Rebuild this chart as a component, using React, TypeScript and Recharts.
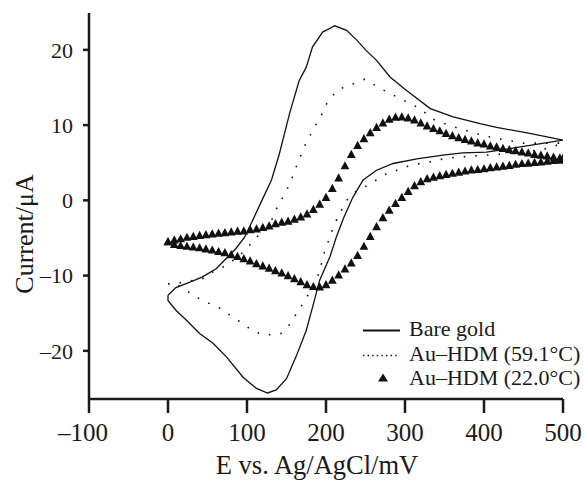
import { ComposedChart, Line, Scatter, XAxis, YAxis, Legend, Text } from "recharts";

const FONT = '"Liberation Serif", "Times New Roman", serif';
const INK = "#1a1a1a";

const X_TICKS = [-100, 0, 100, 200, 300, 400, 500];
const Y_TICKS = [-20, -10, 0, 10, 20];

// Bare gold: anodic sweep 0 -> 500 mV, then cathodic sweep back to 0
const BARE_FWD_E = [0, 10, 27, 43, 61, 74, 86, 97, 107, 118, 131, 141, 154, 166, 175, 183, 196, 202, 211, 226, 239, 251, 264, 281, 302, 332, 361, 395, 416, 458, 500];
const BARE_FWD_I = [-12.6, -11.6, -10.9, -10.2, -9.1, -7.7, -6.4, -4.9, -2.7, -0.2, 2.7, 6.2, 11.6, 15.9, 17.7, 20.4, 22.4, 22.7, 23.2, 22.6, 21.3, 19.9, 18.6, 16.4, 14.6, 12.2, 11.1, 10.2, 9.7, 8.9, 8.0];
const BARE_REV_E = [458, 416, 403, 373, 348, 315, 285, 264, 247, 234, 222, 213, 205, 192, 183, 175, 162, 150, 137, 126, 112, 95, 74, 57, 40, 23, 10, 0, 0];
const BARE_REV_I = [7.3, 6.6, 6.4, 6.3, 6.0, 5.5, 4.9, 4.0, 2.7, 0.4, -2.4, -4.9, -7.5, -10.6, -14.2, -17.3, -20.8, -23.7, -25.2, -25.6, -25.0, -23.5, -20.8, -19.0, -17.7, -15.9, -14.6, -13.3, -12.6];

// Au-HDM at 59.1 °C (dotted)
const HOT_FWD_E = [0, 10, 18, 44, 57, 69, 80, 95, 103, 112, 124, 131, 135, 141, 150, 156, 164, 175, 188, 194, 202, 215, 249, 272, 285, 302, 319, 335, 350, 367, 383, 400, 417, 434, 450, 475, 500];
const HOT_FWD_I = [-11.1, -11.1, -10.9, -10.4, -9.5, -8.9, -8.2, -6.9, -6.0, -4.9, -4.0, -2.7, -1.6, -0.4, 1.3, 2.7, 4.9, 7.7, 10.2, 11.3, 13.1, 14.7, 16.1, 14.7, 14.0, 13.1, 12.2, 10.8, 10.2, 9.6, 9.1, 8.6, 8.2, 7.9, 7.6, 7.6, 7.6];
const HOT_REV_E = [480, 458, 430, 400, 382, 365, 348, 331, 308, 274, 253, 239, 226, 211, 198, 192, 188, 175, 169, 152, 143, 125, 117, 107, 98, 82, 65, 48, 31, 23, 10, 0];
const HOT_REV_I = [6.9, 6.5, 6.2, 6.0, 5.85, 5.75, 5.5, 5.1, 4.7, 3.4, 2.0, 1.3, 0, -3.1, -6.9, -9.3, -10.6, -13.0, -14.0, -16.8, -17.7, -17.9, -17.7, -17.4, -16.6, -15.5, -14.3, -13.5, -12.6, -11.9, -11.1, -11.1];

// Au-HDM at 22.0 °C (triangles), one marker every 8 mV
const COLD_FWD_E = [0, 8, 16, 24, 32, 40, 48, 56, 64, 72, 80, 88, 96, 104, 112, 120, 128, 136, 144, 152, 160, 168, 176, 184, 192, 200, 208, 216, 224, 232, 240, 248, 256, 264, 272, 280, 288, 296, 304, 312, 320, 328, 336, 344, 352, 360, 368, 376, 384, 392, 400, 408, 416, 424, 432, 440, 448, 456, 464, 472, 480, 488, 496, 500];
const COLD_FWD_I = [-5.5, -5.25, -5.1, -4.9, -4.8, -4.65, -4.55, -4.45, -4.35, -4.3, -4.2, -4.1, -4.05, -3.9, -3.8, -3.6, -3.4, -3.1, -2.9, -2.75, -2.5, -2.2, -1.8, -1.2, -0.5, 0.4, 1.6, 3.0, 4.6, 6.1, 7.3, 8.2, 9.0, 9.7, 10.3, 10.8, 11.05, 11.1, 10.95, 10.7, 10.3, 9.9, 9.55, 9.25, 8.9, 8.6, 8.35, 8.1, 7.9, 7.65, 7.5, 7.25, 7.1, 6.9, 6.75, 6.6, 6.45, 6.3, 6.1, 6.0, 5.9, 5.75, 5.65, 5.6];
const COLD_REV_E = [496, 488, 480, 472, 464, 456, 448, 440, 432, 424, 416, 408, 400, 392, 384, 376, 368, 360, 352, 344, 336, 328, 320, 312, 304, 296, 288, 280, 272, 264, 256, 248, 240, 232, 224, 216, 208, 200, 192, 184, 176, 168, 160, 152, 144, 136, 128, 120, 112, 104, 96, 88, 80, 72, 64, 56, 48, 40, 32, 24, 16, 8, 0];
const COLD_REV_I = [5.35, 5.3, 5.2, 5.1, 5.05, 4.95, 4.9, 4.8, 4.65, 4.55, 4.45, 4.35, 4.2, 4.1, 4.05, 3.9, 3.75, 3.6, 3.45, 3.3, 3.1, 2.9, 2.5, 1.95, 1.2, 0.4, -0.4, -1.3, -2.3, -3.5, -4.8, -6.1, -7.3, -8.3, -9.1, -9.9, -10.6, -11.2, -11.5, -11.45, -11.2, -10.8, -10.4, -10.0, -9.65, -9.35, -9.0, -8.7, -8.4, -8.05, -7.75, -7.45, -7.2, -6.95, -6.8, -6.6, -6.45, -6.3, -6.2, -6.1, -6.0, -5.85, -5.5];

const zip = (xs: number[], ys: number[]) => xs.map((x, i) => ({ x, y: ys[i] }));

const bareData = zip([...BARE_FWD_E, ...BARE_REV_E], [...BARE_FWD_I, ...BARE_REV_I]);
const hotData = zip([...HOT_FWD_E, ...HOT_REV_E], [...HOT_FWD_I, ...HOT_REV_I]);
const coldData = zip([...COLD_FWD_E, ...COLD_REV_E], [...COLD_FWD_I, ...COLD_REV_I]);

const dash = (v: number) => String(v).replace("-", "\u2013");

// minus sign hangs to the left so the digits stay centred on the tick
const XTick = (props: any) => {
  const { x, y, payload } = props;
  const v = payload.value as number;
  return (
    <Text
      x={v < 0 ? x - 6 : x}
      y={y}
      textAnchor="middle"
      verticalAnchor="start"
      fill={INK}
      fontSize={25}
      fontFamily={FONT}
    >
      {dash(v)}
    </Text>
  );
};

const Triangle = (props: any) => {
  const { cx, cy } = props;
  if (cx == null || cy == null) return <g />;
  return (
    <polygon
      points={`${cx},${cy - 4.6} ${cx - 4.4},${cy + 3.6} ${cx + 4.4},${cy + 3.6}`}
      fill="#111"
    />
  );
};

const LEGEND_ROWS = [
  { label: "Bare gold", kind: "solid" },
  { label: "Au\u2013HDM (59.1\u00b0C)", kind: "dotted" },
  { label: "Au\u2013HDM (22.0\u00b0C)", kind: "triangle" },
];

const LegendBox = () => (
  <div style={{ fontFamily: FONT, fontSize: 22, color: INK, lineHeight: "24.5px" }}>
    {LEGEND_ROWS.map((row) => (
      <div key={row.label} style={{ display: "flex", alignItems: "center", height: 24.5, whiteSpace: "nowrap" }}>
        <svg width={37} height={24.5} style={{ marginRight: 9, flex: "none" }}>
          {row.kind === "solid" && <line x1={0} y1={13.5} x2={37} y2={13.5} stroke="#111" strokeWidth={1.8} />}
          {row.kind === "dotted" && (
            <line x1={0} y1={13.5} x2={37} y2={13.5} stroke="#111" strokeWidth={1.4} strokeDasharray="1.4 3.2" />
          )}
          {row.kind === "triangle" && <polygon points="20,7.5 15,15.5 25,15.5" fill="#111" />}
        </svg>
        <span>{row.label}</span>
      </div>
    ))}
  </div>
);

export default function App() {
  return (
    <div style={{ position: "absolute", left: 0, top: 0, width: 584, height: 480, background: "#fff" }}>
      <ComposedChart width={584} height={480} margin={{ top: 13, right: 21, bottom: 0, left: 0 }}>
        <XAxis
          type="number"
          dataKey="x"
          domain={[-100, 500]}
          ticks={X_TICKS}
          interval={0}
          allowDataOverflow
          height={81}
          tickSize={14}
          tickMargin={10}
          axisLine={{ stroke: INK, strokeWidth: 2.5 }}
          tickLine={{ stroke: INK, strokeWidth: 2.5 }}
          tick={<XTick />}
          label={{
            value: "E vs. Ag/AgCl/mV",
            position: "insideBottom",
            offset: 6,
            dx: -9,
            fill: INK,
            style: { fontSize: 26.5, fontFamily: FONT, fill: INK },
          }}
        />
        <YAxis
          type="number"
          dataKey="y"
          domain={[-26.4, 24.9]}
          ticks={Y_TICKS}
          interval={0}
          allowDataOverflow
          width={89}
          tickSize={6}
          tickMargin={10}
          tickFormatter={dash}
          axisLine={{ stroke: INK, strokeWidth: 2.5 }}
          tickLine={{ stroke: INK, strokeWidth: 2.5 }}
          tick={{ fill: INK, fontSize: 22, fontFamily: FONT }}
          label={{
            value: "Current/\u03bcA",
            angle: -90,
            position: "insideLeft",
            offset: 24,
            dy: 28,
            fill: INK,
            style: { fontSize: 26, fontFamily: FONT, fill: INK, textAnchor: "middle" },
          }}
        />
        <Line
          data={bareData}
          dataKey="y"
          name="Bare gold"
          type="linear"
          stroke="#111"
          strokeWidth={1.3}
          dot={false}
          activeDot={false}
          isAnimationActive={false}
        />
        <Line
          data={hotData}
          dataKey="y"
          name="Au-HDM (59.1°C)"
          type="linear"
          stroke="#111"
          strokeWidth={1.6}
          strokeDasharray="1.6 10"
          dot={false}
          activeDot={false}
          isAnimationActive={false}
        />
        <Scatter
          data={coldData}
          name="Au-HDM (22.0°C)"
          shape={<Triangle />}
          isAnimationActive={false}
        />
        <Legend
          layout="vertical"
          align="center"
          verticalAlign="middle"
          content={<LegendBox />}
          wrapperStyle={{ left: 363, top: 317, width: 221 }}
        />
      </ComposedChart>
    </div>
  );
}
